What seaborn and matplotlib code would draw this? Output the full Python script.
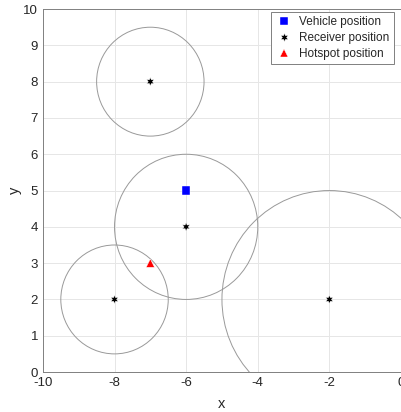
import matplotlib
matplotlib.use("Agg")
import matplotlib.pyplot as plt
from matplotlib.patches import Circle
import seaborn as sns
import pandas as pd

sns.set_style("white")
plt.rcParams['font.family'] = ['Liberation Sans', 'DejaVu Sans']
plt.rcParams['axes.unicode_minus'] = False

vehicle_x = [-6]
vehicle_y = [5]
receiver_x = [-7, -6, -8, -2]
receiver_y = [8, 4, 2, 2]
receiver_r = [1.5, 2, 1.5, 3]
hotspot_x = [-7]
hotspot_y = [3]
labels = ["Vehicle position", "Receiver position", "Hotspot position"]
x_ticks = [-10, -8, -6, -4, -2, 0]
y_ticks = list(range(0, 11))

fig = plt.figure(figsize=(4.01, 4.12), dpi=100)
ax = fig.add_axes([0.107, 0.097, 0.893, 0.881])

for cx, cy, r in zip(receiver_x, receiver_y, receiver_r):
    ax.add_patch(Circle((cx, cy), r, fill=False, edgecolor='#999999', linewidth=0.7, zorder=2))

df = pd.DataFrame({
    "x": vehicle_x + receiver_x + hotspot_x,
    "y": vehicle_y + receiver_y + hotspot_y,
    "kind": [labels[0]] * len(vehicle_x) + [labels[1]] * len(receiver_x) + [labels[2]] * len(hotspot_x),
})
sns.scatterplot(data=df, x="x", y="y", hue="kind", style="kind",
                palette={labels[0]: '#0000ff', labels[1]: '#000000', labels[2]: '#ff0000'},
                markers={labels[0]: 's', labels[1]: (6, 1, 0), labels[2]: '^'},
                s=36, linewidth=0.3, ax=ax, zorder=3)

ax.set_xlim(-10, 0)
ax.set_ylim(0, 10)
ax.set_xticks(x_ticks)
ax.set_yticks(y_ticks)
ax.grid(True, color='#e6e6e6', linewidth=0.7)
ax.set_axisbelow(True)
for s in ax.spines.values():
    s.set_color('#808080')
    s.set_linewidth(0.7)
ax.tick_params(axis='both', labelsize=9.5, colors='#262626', length=3, direction='in', width=0.7)
ax.tick_params(axis='both', color='#808080')
ax.set_xlabel("x", fontsize=10.5, color='#262626', labelpad=6)
ax.set_ylabel("y", fontsize=10.5, color='#262626', labelpad=1)

leg = ax.legend(loc='upper right', bbox_to_anchor=(0.98, 0.992), fontsize=8.5, frameon=True,
                fancybox=False, edgecolor='#808080', framealpha=1, borderpad=0.35,
                handlelength=1.5, handletextpad=0.6, labelspacing=0.35, borderaxespad=0.0,
                title=None)
leg.get_frame().set_linewidth(0.7)

fig.savefig("out.png", dpi=100)
